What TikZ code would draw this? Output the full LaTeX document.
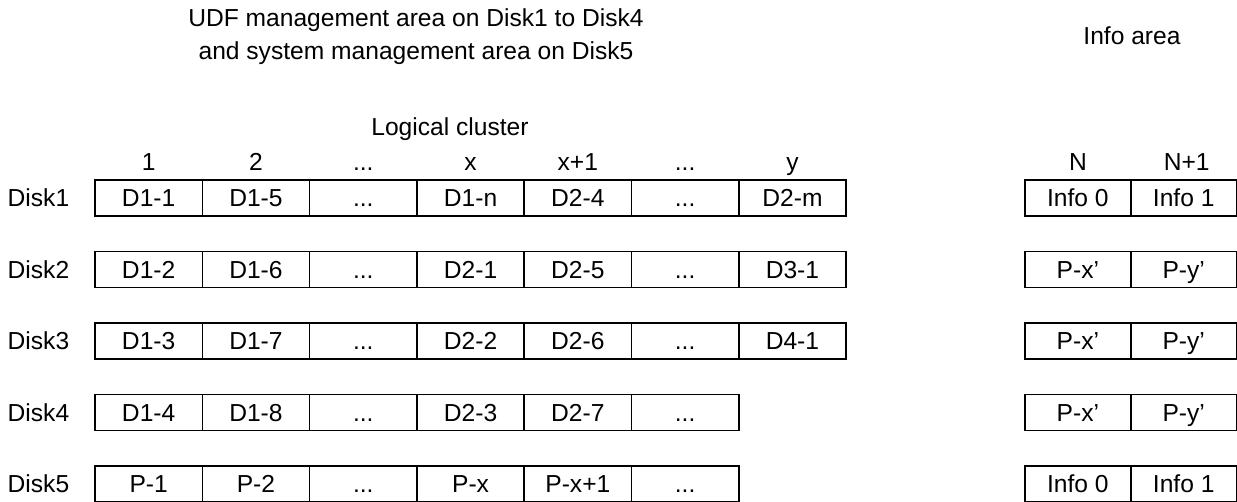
\documentclass[tikz,border=0pt]{standalone}
\usepackage{fontspec}
\setmainfont{Liberation Sans}
\usepackage{tikz}
\usetikzlibrary{positioning}

% "..." kept in a macro so \foreach does not read it as a range
\newcommand{\more}{...}

\begin{document}
\begin{tikzpicture}[
  x=0.5pt, y=-0.5pt,
  line width=0.8pt,
  every node/.style={font=\fontsize{12.3}{16.5}\selectfont,
                     inner sep=0pt, text height=8.8pt, text depth=0pt},
  cell/.style={draw, outer sep=0pt,
               minimum width=53.65pt, minimum height=18pt},
  infocell/.style={cell, minimum width=52.9pt}
]
\useasboundingbox (0,0) rectangle (1237,502);

% headings
\node[align=center, text height=, text depth=] (title) at (416,36.5)
  {UDF management area on Disk1 to Disk4\\and system management area on Disk5};
\node (infotitle) at (1132,36) {Info area};
\node (cluster) at (450,127) {Logical cluster};

% disk rows: logical clusters
\foreach \r/\cells in {
    1/{D1-1,D1-5,\more,D1-n,D2-4,\more,D2-m},
    2/{D1-2,D1-6,\more,D2-1,D2-5,\more,D3-1},
    3/{D1-3,D1-7,\more,D2-2,D2-6,\more,D4-1},
    4/{D1-4,D1-8,\more,D2-3,D2-7,\more},
    5/{P-1,P-2,\more,P-x,P-x+1,\more}}{
  \foreach \c [count=\k] in \cells
    \node[cell] (r\r-\k) at ({95+107.3*(\k-0.5)},{198+71.5*(\r-1)}) {\c};
  \node[left=12.5pt of r\r-1] (disk\r) {Disk\r};
}

% info area
\foreach \r/\a/\b in {1/Info 0/Info 1, 2/P-x’/P-y’, 3/P-x’/P-y’,
                      4/P-x’/P-y’, 5/Info 0/Info 1}{
  \node[infocell] (r\r-n1) at (1077.9,{198+71.5*(\r-1)}) {\a};
  \node[infocell] (r\r-n2) at (1183.7,{198+71.5*(\r-1)}) {\b};
}

% column numbers
\foreach \h [count=\k] in {1,2,\more,x,x+1,\more,y}
  \node[above=4.2pt of r1-\k] (h\k) {\h};
\node[above=4.2pt of r1-n1] (hn1) {N};
\node[above=4.2pt of r1-n2, xshift=1.5pt] (hn2) {N+1};

\end{tikzpicture}
\end{document}
